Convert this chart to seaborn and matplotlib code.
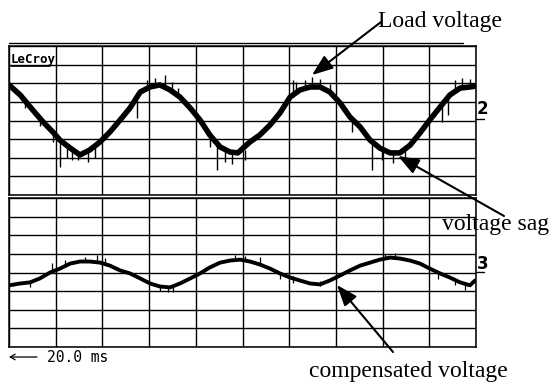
import matplotlib
matplotlib.use("Agg")
import matplotlib.pyplot as plt
from matplotlib.patches import FancyArrowPatch
from matplotlib.lines import Line2D
import seaborn as sns
import pandas as pd

# ---- scope traces, in screen divisions (10 x 8 per channel, 0 = channel centre) ----
t_load = [0.00, 0.24, 0.51, 0.73, 0.94, 1.09, 1.31, 1.52, 1.73, 1.95, 2.16, 2.38,
          2.59, 2.81, 3.02, 3.23, 3.45, 3.66, 3.88, 4.09, 4.30, 4.52, 4.73, 4.90,
          5.16, 5.37, 5.59, 5.80, 6.02, 6.23, 6.45, 6.66, 6.87, 7.09, 7.30, 7.52,
          7.73, 7.94, 8.16, 8.37, 8.59, 8.80, 9.01, 9.23, 9.44, 9.66, 9.87, 10.0]
v_load = [1.91, 1.37, 0.56, -0.08, -0.62, -1.05, -1.48, -1.85, -1.58, -1.15, -0.62, 0.03,
          0.67, 1.53, 1.80, 1.91, 1.64, 1.26, 0.67, 0.03, -0.78, -1.42, -1.69, -1.74,
          -1.15, -0.78, -0.24, 0.40, 1.26, 1.64, 1.80, 1.80, 1.53, 0.94, 0.19, -0.35,
          -1.05, -1.48, -1.74, -1.74, -1.32, -0.67, 0.03, 0.72, 1.37, 1.74, 1.80, 1.85]

t_comp = [0.00, 0.24, 0.45, 0.66, 0.88, 1.09, 1.31, 1.52, 1.73, 1.95, 2.16, 2.38,
          2.59, 2.81, 3.02, 3.23, 3.45, 3.66, 3.88, 4.09, 4.30, 4.52, 4.73, 4.95,
          5.16, 5.37, 5.59, 5.80, 6.02, 6.23, 6.45, 6.66, 6.87, 7.09, 7.30, 7.52,
          7.73, 7.94, 8.16, 8.37, 8.59, 8.80, 9.01, 9.23, 9.44, 9.66, 9.87, 9.98]
v_comp = [-0.69, -0.59, -0.53, -0.32, 0.00, 0.21, 0.48, 0.59, 0.59, 0.53, 0.37, 0.11,
          -0.05, -0.32, -0.59, -0.75, -0.80, -0.59, -0.32, -0.05, 0.27, 0.53, 0.64, 0.69,
          0.59, 0.43, 0.21, -0.05, -0.27, -0.43, -0.59, -0.64, -0.43, -0.16, 0.11, 0.37,
          0.53, 0.69, 0.80, 0.75, 0.64, 0.48, 0.21, -0.05, -0.27, -0.53, -0.69, -0.43]

# switching spikes and noise hairs: position, start level, end level
spike_load_t = [0.34, 0.66, 0.94, 1.09, 1.24, 1.35, 1.48, 1.69, 1.84, 2.74, 2.96, 3.13,
                3.34, 3.49, 3.62, 4.30, 4.45, 4.63, 4.78, 5.05, 6.08, 6.15, 6.34, 6.49,
                6.66, 6.87, 7.34, 7.77, 7.99, 8.22, 8.48, 9.27, 9.40, 9.55, 9.70, 9.87]
spike_load_a = [1.10, 0.13, -0.51, -1.05, -1.37, -1.58, -1.69, -1.64, -1.42, 1.10, 1.75, 1.85,
                1.91, 1.64, 1.37, -0.78, -1.32, -1.58, -1.69, -1.58, 1.26, 1.53, 1.75, 1.80,
                1.80, 1.53, 0.19, -1.15, -1.53, -1.74, -1.58, 1.10, 1.37, 1.64, 1.75, 1.80]
spike_load_b = [0.67, -0.30, -1.15, -2.50, -2.01, -2.12, -2.12, -2.23, -2.01, 0.13, 2.17, 2.28,
                2.45, 2.07, 1.75, -1.42, -2.65, -2.23, -2.34, -2.12, 2.17, 2.07, 2.17, 2.34,
                2.23, 1.96, -0.62, -2.65, -2.12, -2.28, -2.12, -0.08, 0.30, 2.17, 2.28, 2.23]

spike_comp_t = [0.45, 0.92, 1.20, 1.63, 1.88, 2.06, 3.23, 3.40, 3.51, 4.84, 5.05, 5.37,
                5.80, 6.08, 6.66, 8.05, 8.27, 9.19, 9.55, 9.76]
spike_comp_a = [-0.53, 0.11, 0.32, 0.59, 0.59, 0.48, -0.75, -0.80, -0.80, 0.69, 0.64, 0.43,
                0.05, -0.21, -0.43, 0.75, 0.80, 0.00, -0.32, -0.59]
spike_comp_b = [-0.80, 0.53, 0.69, 0.85, 0.96, 0.80, -1.01, -1.07, -1.07, 0.96, 0.91, 0.85,
                -0.37, -0.59, -0.75, 1.01, 1.07, -0.37, -0.69, -0.96]

labels = ["Load voltage", "voltage sag", "compensated voltage"]
timebase = "20.0 ms"

W, H = 549, 385
sns.set_theme(style="white")
plt.rcParams["font.family"] = ["Liberation Serif", "DejaVu Serif"]

fig = plt.figure(figsize=(W / 100, H / 100), dpi=100)
fig.patch.set_facecolor("white")


def fx(x):
    return x / W


def fy(y):
    return 1 - y / H


def panel(top, bottom):
    ax = fig.add_axes([fx(9), fy(bottom), (476 - 9) / W, (bottom - top) / H])
    ax.set_xlim(0, 10)
    ax.set_ylim(-4, 4)
    ax.set_xticks(range(11))
    ax.set_yticks(range(-4, 5))
    ax.grid(True, color="black", linewidth=1.0)
    ax.tick_params(length=0, labelbottom=False, labelleft=False)
    for s in ax.spines.values():
        s.set_color("black")
        s.set_linewidth(1.1)
    ax.set_facecolor("white")
    return ax


ax1 = panel(46, 195)
ax2 = panel(198, 347)

df_load = pd.DataFrame({"t": t_load, "v": v_load})
df_comp = pd.DataFrame({"t": t_comp, "v": v_comp})

sns.lineplot(data=df_load, x="t", y="v", ax=ax1, color="black", linewidth=4.0,
             sort=False, estimator=None, zorder=3)
ax1.vlines(spike_load_t, spike_load_a, spike_load_b, color="black", linewidth=1.0, zorder=3)

sns.lineplot(data=df_comp, x="t", y="v", ax=ax2, color="black", linewidth=2.8,
             sort=False, estimator=None, zorder=3)
ax2.vlines(spike_comp_t, spike_comp_a, spike_comp_b, color="black", linewidth=0.9, zorder=3)
for ax in (ax1, ax2):
    ax.set_xlabel("")
    ax.set_ylabel("")

# rule above the graticule
fig.add_artist(Line2D([fx(9), fx(463)], [fy(43), fy(43)], color="black", linewidth=1.0))

# scope header and channel markers
fig.text(fx(11), fy(63), "LeCroy", family="DejaVu Sans Mono", weight="bold",
         fontsize=9, color="black", va="baseline", ha="left")
fig.add_artist(Line2D([fx(11), fx(50)], [fy(65.5), fy(65.5)], color="black", linewidth=1.2))

fig.text(fx(477), fy(114), "2", family=["Liberation Sans Narrow", "DejaVu Sans"],
         weight="bold", fontsize=12, color="black", va="baseline", ha="left")
fig.add_artist(Line2D([fx(476), fx(484)], [fy(119), fy(119)], color="black", linewidth=1.0))
fig.text(fx(477), fy(269), "3", family=["Liberation Sans Narrow", "DejaVu Sans"],
         weight="bold", fontsize=12, color="black", va="baseline", ha="left")
fig.add_artist(Line2D([fx(476), fx(484)], [fy(272), fy(272)], color="black", linewidth=1.0))

# timebase readout
fig.add_artist(FancyArrowPatch((fx(37), fy(357)), (fx(9), fy(357)), transform=fig.transFigure,
                               arrowstyle="->,head_length=0.35,head_width=0.2",
                               mutation_scale=10, color="black", linewidth=0.9,
                               shrinkA=0, shrinkB=0))
fig.text(fx(47), fy(362), timebase, family="DejaVu Sans Mono", fontsize=10.5,
         color="black", va="baseline", ha="left")

# annotations
fig.text(fx(378), fy(27), labels[0], fontsize=17, color="black", va="baseline", ha="left")
fig.text(fx(442), fy(230), labels[1], fontsize=17, color="black", va="baseline", ha="left")
fig.text(fx(309), fy(377), labels[2], fontsize=17, color="black", va="baseline", ha="left")


def arrow(tail, head):
    fig.add_artist(FancyArrowPatch((fx(tail[0]), fy(tail[1])), (fx(head[0]), fy(head[1])),
                                   transform=fig.transFigure,
                                   arrowstyle="-|>,head_length=0.85,head_width=0.32",
                                   mutation_scale=15, color="black", linewidth=1.5,
                                   shrinkA=0, shrinkB=0, zorder=5))


arrow((381, 22), (312, 75))
arrow((504, 216), (398, 156))
arrow((393, 352), (337, 285))

fig.savefig("out.png", dpi=100, facecolor="white")
